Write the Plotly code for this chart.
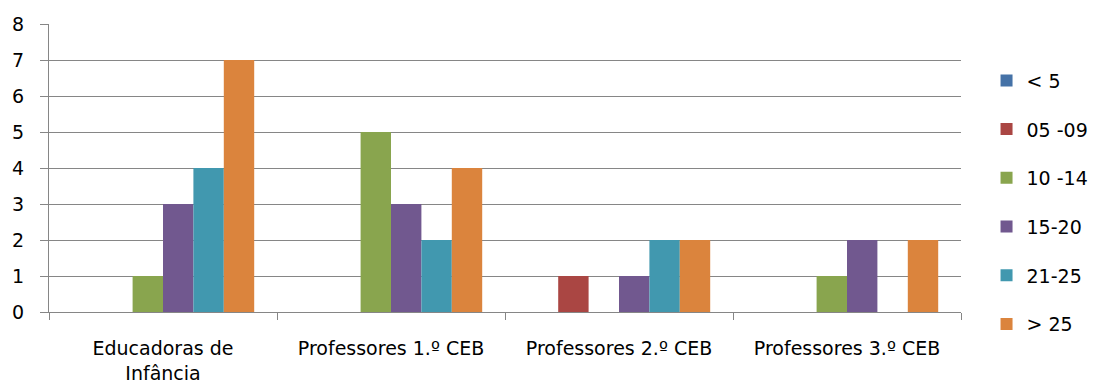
import plotly.graph_objects as go

categories = ["Educadoras de<br>Infância", "Professores 1.º CEB", "Professores 2.º CEB", "Professores 3.º CEB"]
series_names = ["< 5", "05 -09", "10 -14", "15-20", "21-25", "> 25"]
lt5 = [0, 0, 0, 0]
s05_09 = [0, 0, 1, 0]
s10_14 = [1, 5, 0, 1]
s15_20 = [3, 3, 1, 2]
s21_25 = [4, 2, 2, 0]
gt25 = [7, 4, 2, 2]
series_values = [lt5, s05_09, s10_14, s15_20, s21_25, gt25]
colors = ["#4572A7", "#AA4643", "#89A54E", "#71588F", "#4198AF", "#DB843D"]
y_ticks = [0, 1, 2, 3, 4, 5, 6, 7, 8]

FONT = "DejaVu Sans"
FS = 19
fig = go.Figure()
for name, vals, col in zip(series_names, series_values, colors):
    fig.add_trace(go.Bar(
        x=categories, y=vals, name=name, legendgroup=name,
        marker=dict(color=col, line=dict(width=0)),
    ))

fig.update_layout(
    width=1096, height=387,
    margin=dict(l=49, r=135, t=24, b=75, autoexpand=False),
    paper_bgcolor="white", plot_bgcolor="white",
    barmode="group", bargap=0.2, bargroupgap=0,
    font=dict(family=FONT, size=FS, color="black"),
    legend=dict(x=1.028, y=0.38, xanchor="left", yanchor="middle",
                tracegroupgap=21, font=dict(size=FS, family=FONT)),
    xaxis=dict(showline=True, linecolor="#868686", linewidth=1,
               ticks="outside", ticklen=7, tickcolor="#868686",
               tickson="boundaries", showgrid=False, automargin=False,
               ticklabelstandoff=19,
               tickfont=dict(size=FS, family=FONT)),
    yaxis=dict(range=[0, 8], tickvals=y_ticks, showline=True, linecolor="#868686",
               linewidth=1, showgrid=True, gridcolor="#868686", gridwidth=1,
               ticks="outside", ticklen=8, tickcolor="#868686",
               ticklabelstandoff=12, automargin=False,
               zeroline=False, tickfont=dict(size=FS, family=FONT)),
)

fig.write_html("out.html")
